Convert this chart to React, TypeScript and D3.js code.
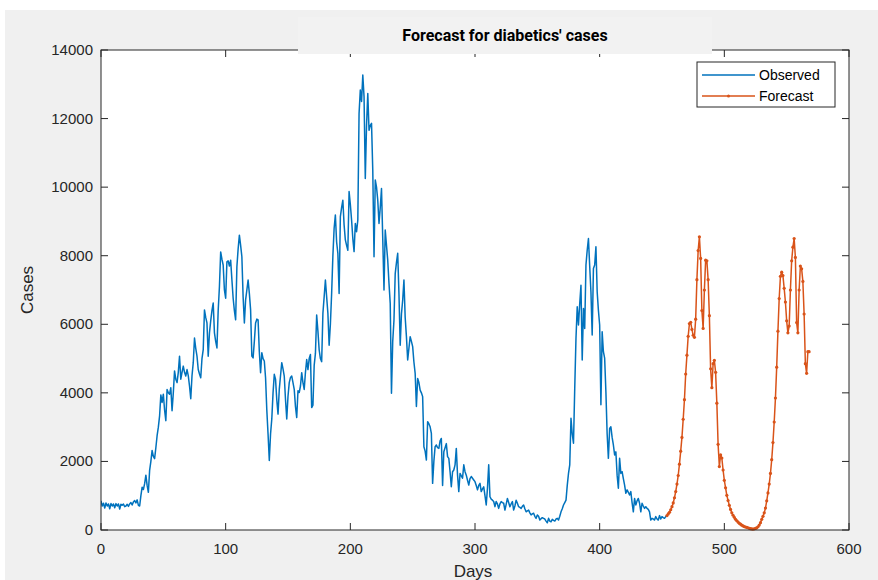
import React from "react";
import * as d3 from "d3";

// Observed daily cases, day 0..454
const observedValues: number[] = [
  850,700,780,640,790,700,760,620,770,700,
  760,650,770,700,760,610,750,720,760,680,
  700,750,690,760,800,730,820,860,790,880,
  720,700,1000,1250,1180,1350,1600,1300,1100,1740,
  2000,2320,2150,2080,2400,2750,3000,3330,3940,3720,
  3960,3500,3190,4100,4000,3960,4150,3480,4000,4640,
  4400,4300,4600,5070,4400,4600,4780,4600,4490,4680,
  4500,4200,3830,4500,4880,5600,5300,5070,4680,4550,
  4440,5000,5260,6420,6200,6040,5070,5750,6100,6400,
  6620,5750,5500,5310,6400,7100,8110,7900,7730,7000,
  6760,7820,7850,7700,7870,7300,6760,6400,6130,7680,
  8200,8600,8300,7970,6800,6040,6710,7000,7290,6900,
  6420,5070,5020,5500,6040,6150,6130,5200,4590,5170,
  5000,4930,4440,3500,2800,2030,2800,3240,4000,4540,
  4400,3800,3380,4100,4500,4880,4700,4490,3800,3240,
  3900,4300,4450,4490,4300,4100,3600,3280,4060,4010,
  4200,4590,4300,4100,4600,4970,4680,5000,5120,3570,
  3640,4800,5150,6270,5800,5250,5000,4910,6320,6800,
  7290,6800,6320,5390,6000,6900,8000,8800,9190,8400,
  8070,6900,9140,9400,9620,8900,8460,8300,8160,9870,
  9500,9040,8500,8120,8940,8700,9040,12150,12830,12500,
  13270,12640,10250,11800,12730,11660,11800,11860,10500,7970,
  10210,10000,9620,8940,9400,9960,8500,7000,8750,8300,
  7870,7200,6610,3990,5500,6120,7480,7800,8070,6900,
  5390,6300,6710,7290,6200,5640,4960,5300,5640,5500,
  5350,4900,4570,3600,4420,4300,4080,4000,3890,2430,
  2300,2040,3160,3100,3010,2820,1360,2000,2430,2480,
  2400,2380,2600,2670,1300,2280,2400,2520,2140,2090,
  1700,1260,1700,1750,1900,2380,1600,1120,1650,1580,
  1510,1900,1700,1600,1450,1310,1500,1560,1510,1460,
  1410,1300,1170,1300,1360,1120,1200,1260,1000,730,
  1220,1900,970,900,870,830,680,830,760,630,
  760,830,800,780,580,750,920,800,680,760,
  830,580,700,870,780,680,660,630,690,730,
  620,530,560,580,500,440,470,490,400,340,
  440,400,290,330,360,340,320,260,210,340,
  260,240,310,280,260,320,340,290,400,530,
  620,730,800,870,1300,1650,1900,3260,2800,2530,
  4130,5590,6510,5980,6600,7140,4960,6460,5880,7730,
  8160,8500,7700,6950,5690,7630,7730,8260,6950,6400,
  5980,3650,5780,5200,5010,4030,2800,2090,2960,3010,
  2700,2480,2190,2280,1600,1220,2090,1650,1700,1500,
  1310,1070,1170,1100,1020,1120,800,530,920,730,
  850,920,780,530,780,700,630,680,630,600,
  530,290,340,320,290,390,320,290,420,320,
  390,360,340,390,420,
];
const observedStartDay = 0;

// Forecast daily cases, day 454..568
const forecastValues: number[] = [
  420,470,515,590,680,790,940,1120,1340,1590,
  1920,2300,2700,3230,3800,4550,5100,5650,6020,6060,
  5850,5680,5620,6150,7300,8150,8550,7920,6400,5880,
  7000,7870,7850,7300,6250,4700,4150,4850,4950,4600,
  3700,2500,1850,2190,2100,1750,1450,1230,1010,860,
  720,600,500,430,370,310,270,230,195,170,
  140,120,100,88,75,65,50,38,30,28,
  35,45,62,95,145,215,310,400,500,640,
  850,1080,1340,1650,2050,2550,3150,3850,4750,5800,
  6750,7400,7520,7420,7050,6650,6100,5750,5950,7000,
  7850,8250,8500,7950,6050,5750,7000,7700,7620,7250,
  6300,4850,4570,5200,5200,
];
const forecastStartDay = 454;

const xTicks = [0, 100, 200, 300, 400, 500, 600];
const yTicks = [0, 2000, 4000, 6000, 8000, 10000, 12000, 14000];
const seriesNames = ["Observed", "Forecast"];
const titleText = "Forecast for diabetics' cases";
const xLabel = "Days";
const yLabel = "Cases";

const W = 878;
const H = 580;
const left = 101;
const right = 849;
const top = 50;
const bottom = 530;
const blue = "#0072BD";
const orange = "#D95319";
const axisColor = "#262626";
const font = "'Liberation Sans', Arial, Helvetica, sans-serif";

export default function App() {
  const x = d3.scaleLinear().domain([0, 600]).range([left, right]);
  const y = d3.scaleLinear().domain([0, 14000]).range([bottom, top]);

  const obs = observedValues.map((v, i) => [observedStartDay + i, v] as [number, number]);
  const fc = forecastValues.map((v, i) => [forecastStartDay + i, v] as [number, number]);

  const line = d3
    .line<[number, number]>()
    .x((d) => x(d[0]))
    .y((d) => y(d[1]));

  const tickLen = 7;

  return (
    <svg
      width={W}
      height={H}
      style={{ position: "absolute", left: 0, top: 0, display: "block" }}
    >
      <rect x={0} y={0} width={W} height={H} fill="#ffffff" />
      <rect x={5} y={10} width={W - 5} height={H - 10} fill="#f0f0f0" />
      <rect x={left} y={top} width={right - left} height={bottom - top} fill="#ffffff" />

      <defs>
        <clipPath id="plotclip">
          <rect x={left} y={top - 2} width={right - left} height={bottom - top + 6} />
        </clipPath>
      </defs>

      <g clipPath="url(#plotclip)">
        <path d={line(obs) || ""} fill="none" stroke={blue} strokeWidth={1.5} strokeLinejoin="round" />
        <path d={line(fc) || ""} fill="none" stroke={orange} strokeWidth={1.5} strokeLinejoin="round" />
        {fc.map((d, i) => (
          <circle key={i} cx={x(d[0])} cy={y(d[1])} r={1.6} fill={orange} />
        ))}
      </g>

      {/* axes box */}
      <rect x={left} y={top} width={right - left} height={bottom - top} fill="none" stroke={axisColor} strokeWidth={1} />
      {xTicks.map((t) => (
        <g key={"xt" + t}>
          <line x1={x(t)} x2={x(t)} y1={bottom} y2={bottom - tickLen} stroke={axisColor} />
          <line x1={x(t)} x2={x(t)} y1={top} y2={top + tickLen} stroke={axisColor} />
          <text x={x(t)} y={554} textAnchor="middle" fontFamily={font} fontSize={15} fill={axisColor}>
            {t}
          </text>
        </g>
      ))}
      {yTicks.map((t) => (
        <g key={"yt" + t}>
          <line x1={left} x2={left + tickLen} y1={y(t)} y2={y(t)} stroke={axisColor} />
          <line x1={right} x2={right - tickLen} y1={y(t)} y2={y(t)} stroke={axisColor} />
          <text x={93} y={y(t) + 5} textAnchor="end" fontFamily={font} fontSize={15} fill={axisColor}>
            {t}
          </text>
        </g>
      ))}

      {/* title box */}
      <rect x={298} y={17} width={414} height={37} fill="#f2f2f2" />
      <text x={505} y={41} textAnchor="middle" fontFamily="Roboto, 'Open Sans', sans-serif" fontWeight="bold" fontSize={16} fill="#000">
        {titleText}
      </text>

      <text x={473} y={577} textAnchor="middle" fontFamily={font} fontSize={17} fill={axisColor}>
        {xLabel}
      </text>
      <text
        transform={`translate(33,${290}) rotate(-90)`}
        textAnchor="middle"
        fontFamily={font}
        fontSize={17}
        fill={axisColor}
      >
        {yLabel}
      </text>

      {/* legend */}
      <rect x={697} y={62} width={138} height={45} fill="#ffffff" stroke={axisColor} strokeWidth={1} />
      <line x1={702} x2={755} y1={75} y2={75} stroke={blue} strokeWidth={1.3} />
      <text x={759} y={80} fontFamily={font} fontSize={14} fill="#000">
        {seriesNames[0]}
      </text>
      <line x1={702} x2={755} y1={96} y2={96} stroke={orange} strokeWidth={1.3} />
      <circle cx={728.5} cy={96} r={1.5} fill={orange} />
      <text x={759} y={101} fontFamily={font} fontSize={14} fill="#000">
        {seriesNames[1]}
      </text>
    </svg>
  );
}
